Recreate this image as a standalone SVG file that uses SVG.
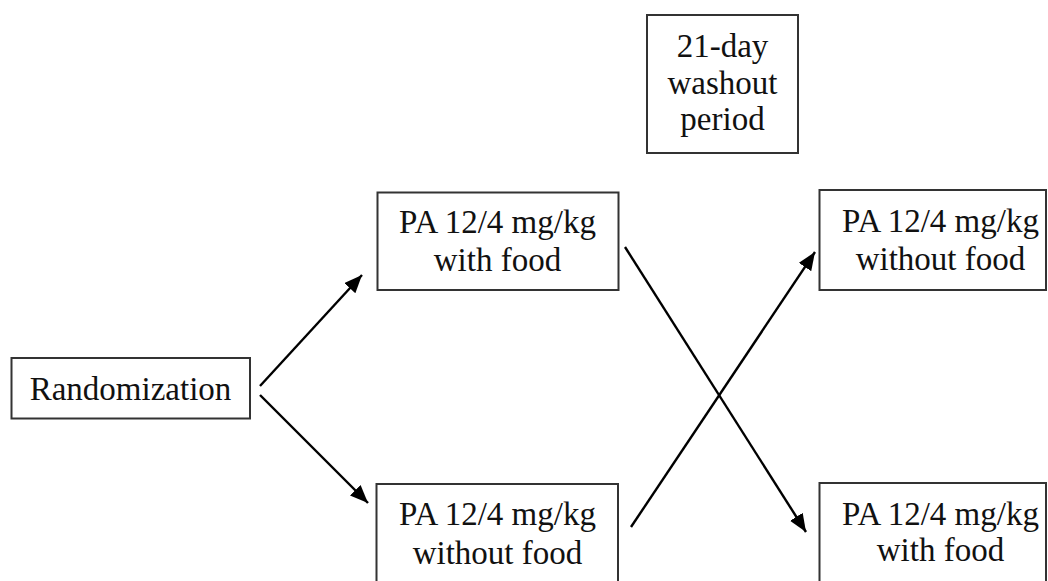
<svg xmlns="http://www.w3.org/2000/svg" width="1048" height="581" viewBox="0 0 1048 581">
<style>
.box{fill:#fff;stroke:#333;stroke-width:2}
.t{font-family:"Liberation Serif","Times New Roman",serif;font-size:33px;fill:#111;text-anchor:middle}
.c{stroke:#000;stroke-width:2.4;fill:none;marker-end:url(#ah)}
</style>
<defs>
<marker id="ah" markerUnits="userSpaceOnUse" markerWidth="22" markerHeight="18" refX="18" refY="7.5" orient="auto">
<path d="M0,0 L18,7.5 L0,15 z" fill="#000"/>
</marker>
</defs>
<rect width="1048" height="581" fill="#fff"/>
<g id="connectors">
<line class="c" x1="260" y1="386" x2="362" y2="275"/>
<line class="c" x1="260" y1="395" x2="368" y2="503"/>
<line class="c" x1="625" y1="247" x2="806" y2="532"/>
<line class="c" x1="631" y1="527" x2="815" y2="252"/>
</g>
<g id="washout">
<rect class="box" x="647" y="15" width="151" height="138"/>
<text class="t" x="722.5" y="57">21-day</text>
<text class="t" x="722.5" y="94">washout</text>
<text class="t" x="722.5" y="130">period</text>
</g>
<g id="randomization">
<rect class="box" x="11.5" y="358" width="238.5" height="60.5"/>
<text class="t" x="130.5" y="400">Randomization</text>
</g>
<g id="arm1-with-food">
<rect class="box" x="377.5" y="192.5" width="241" height="97.5"/>
<text class="t" x="497.5" y="233">PA 12/4 mg/kg</text>
<text class="t" x="497.5" y="271">with food</text>
</g>
<g id="arm2-without-food">
<rect class="box" x="376.5" y="484" width="241.5" height="110"/>
<text class="t" x="497.5" y="525">PA 12/4 mg/kg</text>
<text class="t" x="497.5" y="564">without food</text>
</g>
<g id="period2-without-food">
<rect class="box" x="819.5" y="190" width="226.5" height="100"/>
<text class="t" x="940.5" y="231.5">PA 12/4 mg/kg</text>
<text class="t" x="940.5" y="270">without food</text>
</g>
<g id="period2-with-food">
<rect class="box" x="819.5" y="483" width="226.5" height="110"/>
<text class="t" x="940.5" y="525">PA 12/4 mg/kg</text>
<text class="t" x="940.5" y="561">with food</text>
</g>
</svg>
